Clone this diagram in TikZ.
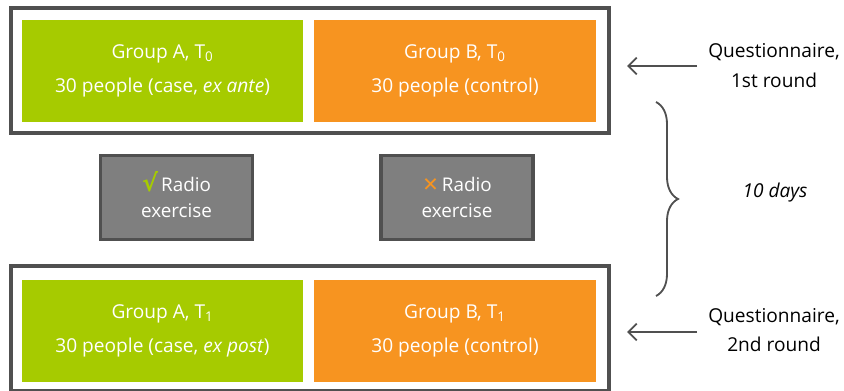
\documentclass[tikz,border=0pt]{standalone}
\usepackage{fontspec}
\setmainfont{Open Sans}
\newfontfamily\symfont{DejaVu Sans}
\usetikzlibrary{arrows.meta,decorations.pathreplacing}
\definecolor{grpgreen}{HTML}{A6CB00}
\definecolor{grporange}{HTML}{F79420}
\definecolor{framegray}{HTML}{505050}
\definecolor{boxgray}{HTML}{7F7F7F}
\begin{document}
\begin{tikzpicture}[
    grp/.style={minimum width=7.03cm,minimum height=2.55cm,text=white,align=center,font=\fontsize{13.6}{24}\selectfont,inner sep=0pt},
    frame/.style={draw=framegray,line width=2.6pt,minimum width=14.95cm,minimum height=3.125cm,inner sep=0pt},
    exbox/.style={draw=framegray,line width=2.2pt,fill=boxgray,minimum width=3.8cm,minimum height=2.1cm,text=white,align=center,font=\fontsize{13.4}{18}\selectfont},
    note/.style={align=center,font=\fontsize{13.6}{21}\selectfont,text=black}
  ]
  \useasboundingbox (0,0) rectangle (21.1,9.75);
  % first round
  \node[frame] (top) at (7.75,7.9875) {};
  \node[grp,fill=grpgreen] (a0) at (4.0625,7.975) {Group A, T\textsubscript{0}\\30 people (case, \textit{ex ante})};
  \node[grp,fill=grporange] (b0) at (11.375,7.975) {Group B, T\textsubscript{0}\\30 people (control)};
  % exercise
  \node[exbox] (exa) at (4.4125,4.8125) {\smash{\symfont\bfseries\fontsize{17}{17}\selectfont\color{grpgreen}√}\,Radio\\exercise};
  \node[exbox] (exb) at (11.425,4.8125) {\smash{\symfont\bfseries\fontsize{14}{14}\selectfont\color{grporange}✕}\,Radio\\exercise};
  % second round
  \clip (0,0) rectangle (21.1,9.75);
  \node[frame] (bot) at (7.75,1.5375) {};
  \node[grp,fill=grpgreen] (a1) at (4.0625,1.475) {Group A, T\textsubscript{1}\\30 people (case, \textit{ex post})};
  \node[grp,fill=grporange] (b1) at (11.375,1.475) {Group B, T\textsubscript{1}\\30 people (control)};
  % right side
  \node[note] (q1) at (19.35,8.1125) {Questionnaire,\\1st round};
  \node[note] (q2) at (19.35,1.5) {Questionnaire,\\2nd round};
  \node[note] (days) at (19.375,4.925) {\textit{10 days}};
  \coordinate (t1) at (15.675,8.1);
  \coordinate (t2) at (15.675,1.45);
  \draw[-{Straight Barb[length=6pt,width=12pt]},line width=1.3pt,framegray] (17.425,8.1) -- (t1);
  \draw[-{Straight Barb[length=6pt,width=12pt]},line width=1.3pt,framegray] (17.425,1.45) -- (t2);
  \draw[decorate,decoration={brace,amplitude=0.55cm},line width=1.3pt,framegray] (16.4,7.2) -- (16.4,2.35);
\end{tikzpicture}
\end{document}
